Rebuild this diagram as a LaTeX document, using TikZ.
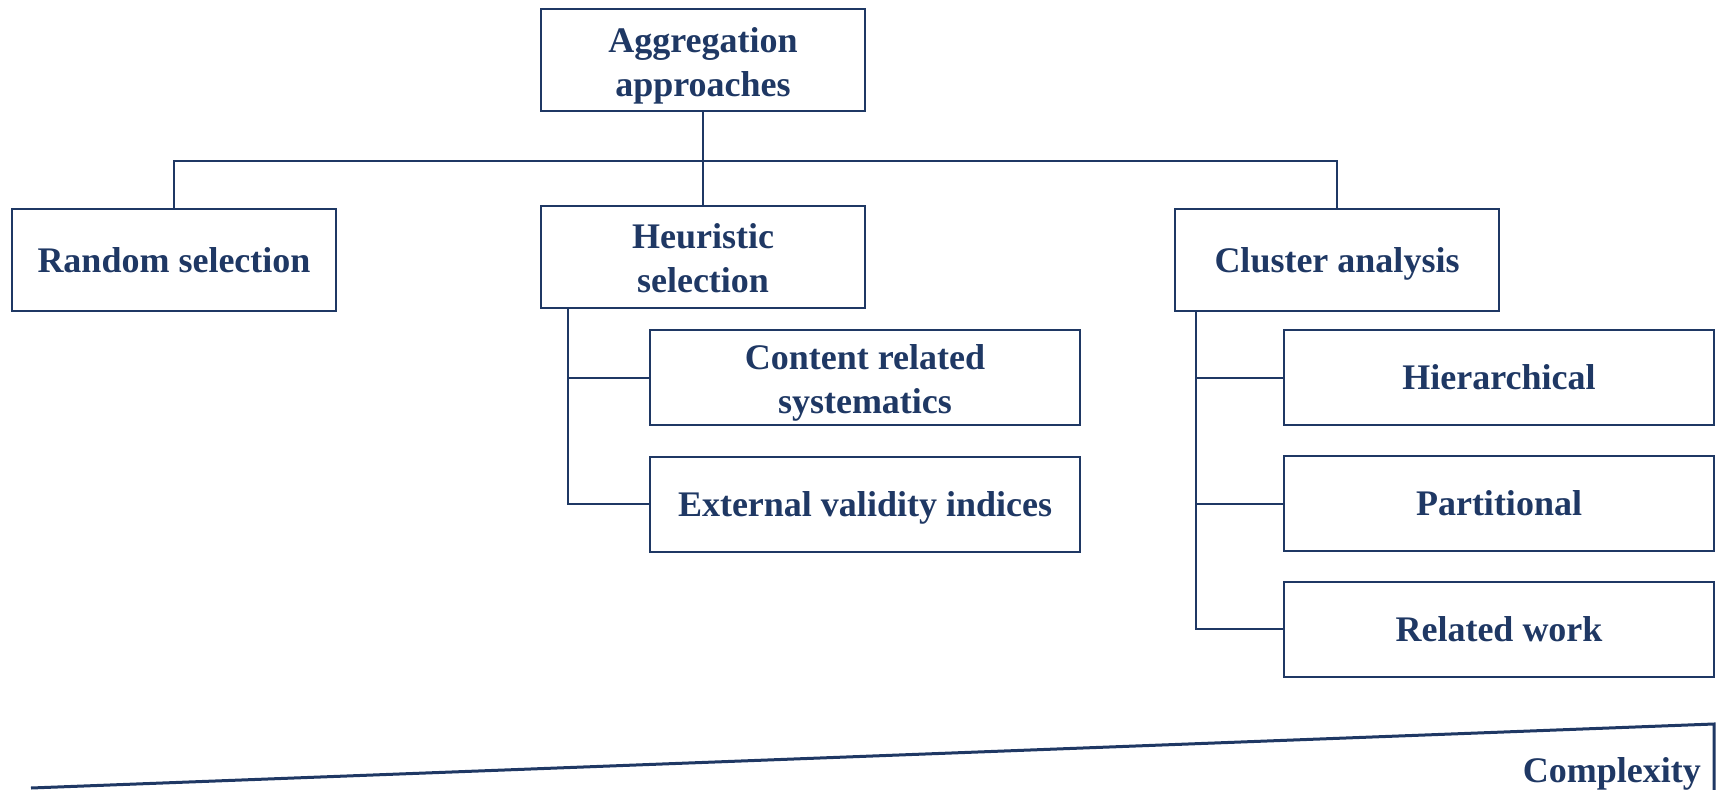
\documentclass[tikz,border=0pt]{standalone}
\usepackage{fontspec}
\setmainfont{Liberation Serif}
\definecolor{navy}{HTML}{1F3864}
% struts giving the text lines a fixed height and depth
\newcommand{\lnstrut}{\rule[-8pt]{0pt}{40pt}}
\newcommand{\topstrut}{\rule[-8pt]{0pt}{44pt}}
\begin{document}
\begin{tikzpicture}[x=1pt,y=-1pt,
  box/.style={draw=navy, line width=2pt, rectangle, text=navy, align=center,
    font=\fontsize{36}{44}\selectfont\bfseries, inner sep=0pt},
  wide/.style={box, minimum width=324pt, minimum height=102pt},
  leaf/.style={box, minimum width=430pt, minimum height=95pt},
  link/.style={draw=navy, line width=2pt},
  wedge/.style={draw=navy, line width=3pt, line join=miter}]
\useasboundingbox (0,0) rectangle (1717,790);

% top level
\node[wide] (agg) at (703,60) {\topstrut Aggregation\\\lnstrut approaches};

% second level
\node[wide] (rand) at (174,260) {\lnstrut Random selection};
\node[wide] (heur) at (703,256.5) {\topstrut Heuristic\\\lnstrut selection};
\node[wide] (clus) at (1337,260) {\lnstrut Cluster analysis};

% heuristic sub-branches
\node[leaf] (cont) at (865,377.5) {\topstrut Content related\\\lnstrut systematics};
\node[leaf] (ext)  at (865,504) {\lnstrut External validity indices};

% cluster sub-branches
\node[leaf] (hier) at (1499,377.5) {\lnstrut Hierarchical};
\node[leaf] (part) at (1499,503.5) {\lnstrut Partitional};
\node[leaf] (rel)  at (1499,629) {\lnstrut Related work};

% tree connectors
\coordinate (hub) at (703,161);
\draw[link] (agg.south) -- (heur.north);
\draw[link] (rand.north) |- (hub) -| (clus.north);

\coordinate (hb) at ([xshift=28pt]heur.south west);
\draw[link] (hb) |- (cont.west);
\draw[link] (hb) |- (ext.west);

\coordinate (cb) at ([xshift=22pt]clus.south west);
\draw[link] (cb) |- (hier.west);
\draw[link] (cb) |- (part.west);
\draw[link] (cb) |- (rel.west);

% complexity wedge
\coordinate (wl) at (31,788);
\coordinate (wt) at (1714,724);
\coordinate (wb) at (1714,796);
\draw[wedge] (wl) -- (wt) -- (wb);
\node[anchor=base east, text=navy, font=\fontsize{36}{44}\selectfont\bfseries, inner sep=0pt]
  (cx) at (1701,782) {Complexity};
\end{tikzpicture}
\end{document}
